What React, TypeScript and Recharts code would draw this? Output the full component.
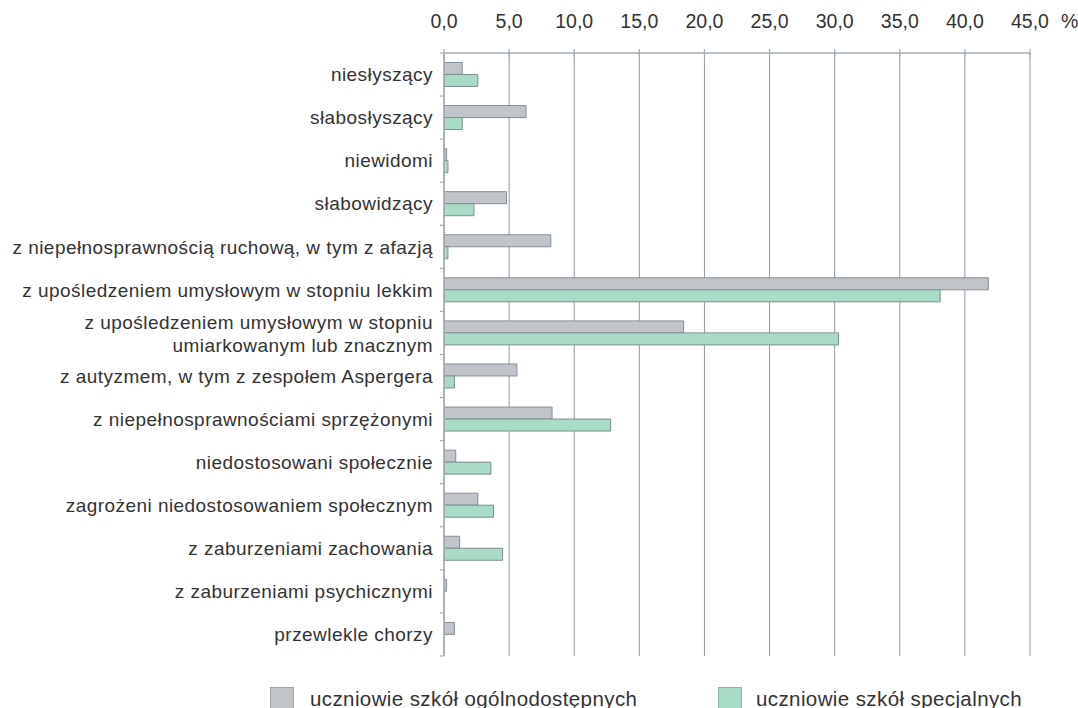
import React from 'react';
import { BarChart, Bar, XAxis, YAxis, CartesianGrid, Legend } from 'recharts';

const categories = [
  'niesłyszący',
  'słabosłyszący',
  'niewidomi',
  'słabowidzący',
  'z niepełnosprawnością ruchową, w tym z afazją',
  'z upośledzeniem umysłowym w stopniu lekkim',
  'z upośledzeniem umysłowym w stopniu\numiarkowanym lub znacznym',
  'z autyzmem, w tym z zespołem Aspergera',
  'z niepełnosprawnościami sprzężonymi',
  'niedostosowani społecznie',
  'zagrożeni niedostosowaniem społecznym',
  'z zaburzeniami zachowania',
  'z zaburzeniami psychicznymi',
  'przewlekle chorzy',
];

const generalSchools = [1.4, 6.3, 0.2, 4.8, 8.2, 41.8, 18.4, 5.6, 8.3, 0.9, 2.6, 1.2, 0.2, 0.8];
const specialSchools = [2.6, 1.4, 0.3, 2.3, 0.3, 38.1, 30.3, 0.8, 12.8, 3.6, 3.8, 4.5, 0, 0];

const xTicks = [0, 5, 10, 15, 20, 25, 30, 35, 40, 45];

const seriesNames = ['uczniowie szkół ogólnodostępnych', 'uczniowie szkół specjalnych'];

const data = categories.map((name, i) => ({
  name,
  general: generalSchools[i],
  special: specialSchools[i],
}));

const FONT = '"Liberation Sans", Arial, Helvetica, sans-serif';
const TEXT = '#333333';
const AXIS = '#a3adb6';
const GRID = '#8f9ba6';
const GRAY_FILL = '#c1c4c9';
const GRAY_STROKE = '#858e96';
const GREEN_FILL = '#a9dcc7';
const GREEN_STROKE = '#7f8c8f';

const CHART_W = 1078;
const CHART_H = 708;
const PLOT_TOP = 53;
const PLOT_BOTTOM = 656;
const BAND = (PLOT_BOTTOM - PLOT_TOP) / categories.length;
const AXIS_X = 444;

const XTick = (props: any) => {
  const { x, y, payload } = props;
  const label = Number(payload.value).toFixed(1).replace('.', ',');
  return (
    <g>
      <line x1={x} x2={x} y1={y - 4} y2={y + 4} stroke={AXIS} strokeWidth={1.2} />
      <text
        x={x}
        y={y - 32}
        dy="0.355em"
        textAnchor="middle"
        fontSize={19.5}
        fontFamily={FONT}
        fill={TEXT}
      >
        {label}
      </text>
      {payload.value === 45 ? (
        <text x={x + 31} y={y - 32} dy="0.355em" textAnchor="start" fontSize={19.5} fontFamily={FONT} fill={TEXT}>
          %
        </text>
      ) : null}
    </g>
  );
};

const YTick = (props: any) => {
  const { x, y, payload, index } = props;
  const lines = String(payload.value).split('\n');
  const top = y - BAND / 2;
  const bottom = y + BAND / 2;
  return (
    <g>
      <line x1={AXIS_X - 4} x2={AXIS_X} y1={top} y2={top} stroke={AXIS} strokeWidth={1.2} />
      {index === categories.length - 1 ? (
        <line x1={AXIS_X - 4} x2={AXIS_X} y1={bottom} y2={bottom} stroke={AXIS} strokeWidth={1.2} />
      ) : null}
      {lines.length === 1 ? (
        <text
          x={x}
          y={y}
          dy="0.355em"
          textAnchor="end"
          fontSize={19}
          letterSpacing={0.45}
          fontFamily={FONT}
          fill={TEXT}
        >
          {lines[0]}
        </text>
      ) : (
        <text textAnchor="end" fontSize={19} letterSpacing={0.45} fontFamily={FONT} fill={TEXT}>
          <tspan x={x} y={y - 3.5}>
            {lines[0]}
          </tspan>
          <tspan x={x} y={y + 19}>
            {lines[1]}
          </tspan>
        </text>
      )}
    </g>
  );
};

const LegendContent = () => {
  const items = [
    { name: seriesNames[0], fill: GRAY_FILL, stroke: '#9ea4aa', sq: 270, tx: 310 },
    { name: seriesNames[1], fill: GREEN_FILL, stroke: '#93b5a8', sq: 718, tx: 756 },
  ];
  return (
    <div style={{ position: 'relative', width: CHART_W, height: CHART_H - PLOT_BOTTOM }}>
      {items.map((it) => (
        <React.Fragment key={it.name}>
          <div
            style={{
              position: 'absolute',
              left: it.sq,
              top: 31,
              width: 22,
              height: 22,
              background: it.fill,
              border: `1px solid ${it.stroke}`,
            }}
          />
          <span
            style={{
              position: 'absolute',
              left: it.tx,
              top: 31,
              fontFamily: FONT,
              fontSize: 20.5,
              lineHeight: '24px',
              color: TEXT,
              whiteSpace: 'nowrap',
              letterSpacing: 0.4,
            }}
          >
            {it.name}
          </span>
        </React.Fragment>
      ))}
    </div>
  );
};

export default function App() {
  return (
    <div style={{ position: 'absolute', left: 0, top: 0, width: CHART_W, height: CHART_H, background: '#fff' }}>
      <BarChart
        layout="vertical"
        width={CHART_W}
        height={CHART_H}
        data={data}
        margin={{ top: 8, right: 48, bottom: 0, left: 0 }}
        barCategoryGap="22%"
        barGap={0}
      >
        <CartesianGrid horizontal={false} vertical={true} stroke={GRID} strokeWidth={1} />
        <XAxis
          type="number"
          orientation="top"
          domain={[0, 45]}
          ticks={xTicks}
          height={45}
          tick={<XTick />}
          tickLine={false}
          tickSize={0}
          tickMargin={0}
          axisLine={{ stroke: AXIS, strokeWidth: 1.5 }}
          allowDataOverflow
        />
        <YAxis
          type="category"
          dataKey="name"
          width={AXIS_X}
          tick={<YTick />}
          tickLine={false}
          tickSize={0}
          tickMargin={11}
          interval={0}
          axisLine={{ stroke: AXIS, strokeWidth: 1.5 }}
        />
        <Bar
          dataKey="general"
          name={seriesNames[0]}
          fill={GRAY_FILL}
          stroke={GRAY_STROKE}
          strokeWidth={1}
          isAnimationActive={false}
        />
        <Bar
          dataKey="special"
          name={seriesNames[1]}
          fill={GREEN_FILL}
          stroke={GREEN_STROKE}
          strokeWidth={1}
          isAnimationActive={false}
        />
        <Legend verticalAlign="bottom" align="left" content={<LegendContent />} wrapperStyle={{ left: 0, bottom: 0 }} />
      </BarChart>
    </div>
  );
}
